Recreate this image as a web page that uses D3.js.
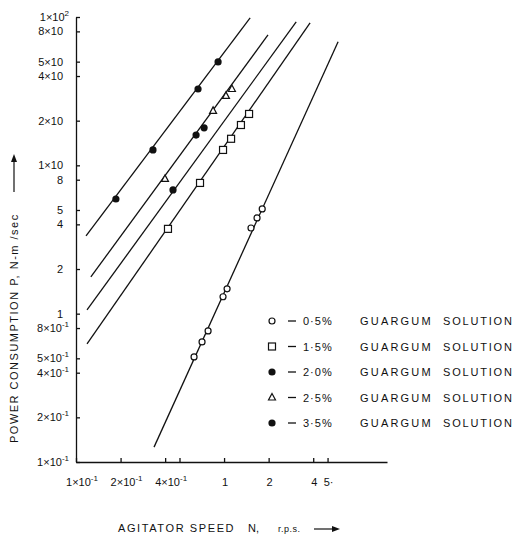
<!DOCTYPE html>
<html>
<head>
<meta charset="utf-8">
<script src="https://cdn.jsdelivr.net/npm/d3@7"></script>
<style>
  body { margin: 0; background: #fff; }
  svg text { font-family: "Liberation Sans", "DejaVu Sans", sans-serif; fill: #111; }
</style>
</head>
<body>
<svg id="chart" width="515" height="539"></svg>
<script>
// agitator speed N (r.p.s.) and power P (N-m/sec)
var n05 = [0.627, 0.710, 0.780, 0.984, 1.048, 1.52, 1.67, 1.81];
var p05 = [0.511, 0.645, 0.765, 1.30, 1.47, 3.78, 4.42, 5.08];
var n15 = [0.418, 0.688, 0.984, 1.115, 1.30, 1.475];
var p15 = [3.73, 7.61, 12.7, 15.1, 18.7, 22.2];
var n20 = [0.452, 0.647, 0.733];
var p20 = [6.83, 16.0, 17.9];
var n25 = [0.399, 0.843, 1.03, 1.13];
var p25 = [8.10, 23.3, 29.4, 32.7];
var n35 = [0.186, 0.331, 0.667, 0.911];
var p35 = [5.93, 12.7, 32.7, 49.8];

// fitted straight lines (end points), same order as the legend
var fitN = [[0.3365, 5.89], [0.1187, 3.81], [0.1187, 3.07], [0.126, 1.98], [0.1169, 1.50]];
var fitP = [[0.126, 68.0], [0.625, 91.3], [1.06, 92.7], [1.77, 75.7], [3.34, 98.6]];

var legendPct = ['0·5%', '1·5%', '2·0%', '2·5%', '3·5%'];
var legendSym = ['circle', 'square', 'dot', 'triangle', 'dot'];

var xTicks = [0.1, 0.2, 0.4, 0.5, 1, 2, 4, 5];
var xTickLabels = ['1×10^-1', '2×10^-1', '4×10^-1', '', '1', '2', '4', '5·'];
var yTicks = [100, 80, 50, 40, 20, 10, 8, 5, 4, 2, 1, 0.8, 0.5, 0.4, 0.2, 0.1];
var yTickLabels = ['1×10^2', '8×10', '5×10', '4×10', '2×10', '1×10', '8', '5', '4', '2', '1',
                   '8×10^-1', '5×10^-1', '4×10^-1', '2×10^-1', '1×10^-1'];

var svg = d3.select('#chart');
var x = d3.scaleLog().domain([0.1, 12.6]).range([76, 387]);
var y = d3.scaleLog().domain([0.1, 100]).range([462, 17]);

// axes, ticks point inwards
svg.append('g')
  .attr('transform', 'translate(0,462)')
  .call(d3.axisBottom(x).tickValues(xTicks).tickSize(-4).tickSizeOuter(0).tickFormat(''));
svg.append('g')
  .attr('transform', 'translate(76,0)')
  .call(d3.axisLeft(y).tickValues(yTicks).tickSize(-4).tickSizeOuter(0).tickFormat(''));
svg.selectAll('.domain, .tick line').attr('stroke', '#111').attr('stroke-width', 1.3);

function supText(sel, str) {
  var parts = str.split('^');
  sel.text(parts[0]);
  if (parts.length > 1) {
    sel.append('tspan').attr('dy', -5).style('font-size', '8px').text(parts[1]);
  }
}

xTicks.forEach(function(v, i) {
  var lab = xTickLabels[i];
  if (!lab) return;
  var t = svg.append('text')
    .attr('x', x(v) + (lab.indexOf('^') > 0 ? 6 : 1))
    .attr('y', 486)
    .attr('text-anchor', 'middle')
    .style('font-size', '11px');
  supText(t, lab);
});

yTicks.forEach(function(v, i) {
  var lab = yTickLabels[i];
  var t = svg.append('text')
    .attr('x', lab.indexOf('^') > 0 ? 69 : 63)
    .attr('y', y(v) + 4)
    .attr('text-anchor', 'end')
    .style('font-size', '11px');
  supText(t, lab);
});

// fit lines
var line = d3.line().x(function(d) { return x(d[0]); }).y(function(d) { return y(d[1]); });
fitN.forEach(function(ns, i) {
  svg.append('path')
    .attr('d', line([[ns[0], fitP[i][0]], [ns[1], fitP[i][1]]]))
    .attr('fill', 'none')
    .attr('stroke', '#111')
    .attr('stroke-width', 1.3);
});

// markers
function drawMarker(g, sym, cx, cy) {
  if (sym === 'circle') {
    g.append('circle').attr('cx', cx).attr('cy', cy).attr('r', 3)
      .attr('fill', '#fff').attr('stroke', '#111').attr('stroke-width', 1.2);
  } else if (sym === 'dot') {
    g.append('circle').attr('cx', cx).attr('cy', cy).attr('r', 3.6).attr('fill', '#111');
  } else if (sym === 'square') {
    g.append('rect').attr('x', cx - 3.5).attr('y', cy - 3.5).attr('width', 7).attr('height', 7)
      .attr('fill', '#fff').attr('stroke', '#111').attr('stroke-width', 1.2);
  } else if (sym === 'triangle') {
    g.append('path')
      .attr('d', 'M' + cx + ',' + (cy - 4) + 'L' + (cx + 3.5) + ',' + (cy + 2.5) + 'L' + (cx - 3.5) + ',' + (cy + 2.5) + 'Z')
      .attr('fill', '#fff').attr('stroke', '#111').attr('stroke-width', 1.2);
  }
}

var seriesN = [n05, n15, n20, n25, n35];
var seriesP = [p05, p15, p20, p25, p35];
var pts = svg.append('g');
seriesN.forEach(function(ns, i) {
  ns.forEach(function(n, j) {
    drawMarker(pts, legendSym[i], x(n), y(seriesP[i][j]));
  });
});

// legend
var leg = svg.append('g');
legendPct.forEach(function(p, i) {
  var ly = 321 + i * 25.5;
  drawMarker(leg, legendSym[i], 272, ly);
  leg.append('line').attr('x1', 288).attr('x2', 296).attr('y1', ly).attr('y2', ly)
    .attr('stroke', '#111').attr('stroke-width', 1.3);
  leg.append('text').attr('x', 303).attr('y', ly + 4).style('font-size', '11px')
    .style('letter-spacing', '1px').text(p);
  leg.append('text').attr('x', 360).attr('y', ly + 4).style('font-size', '11px')
    .style('letter-spacing', '2.2px').text('GUARGUM');
  leg.append('text').attr('x', 443).attr('y', ly + 4).style('font-size', '11px')
    .style('letter-spacing', '1.8px').text('SOLUTION');
});

// axis titles
svg.append('text').attr('x', 118).attr('y', 532)
  .style('font-size', '11px').style('letter-spacing', '1.6px')
  .text('AGITATOR  SPEED');
svg.append('text').attr('x', 248).attr('y', 532)
  .style('font-size', '11px').text('N,');
svg.append('text').attr('x', 278).attr('y', 532)
  .style('font-size', '9px').style('letter-spacing', '0.5px').text('r.p.s.');
svg.append('line').attr('x1', 314).attr('x2', 334).attr('y1', 529).attr('y2', 529)
  .attr('stroke', '#111').attr('stroke-width', 1.2);
svg.append('path').attr('d', 'M340,529L332,526L332,532Z').attr('fill', '#111');

svg.append('text')
  .attr('transform', 'translate(18,443) rotate(-90)')
  .style('font-size', '11px').style('letter-spacing', '1.5px')
  .text('POWER  CONSUMPTION  P, N-m /sec');
svg.append('line').attr('x1', 14).attr('x2', 14).attr('y1', 192).attr('y2', 160)
  .attr('stroke', '#111').attr('stroke-width', 1.2);
svg.append('path').attr('d', 'M14,154L11,162L17,162Z').attr('fill', '#111');
</script>
</body>
</html>
